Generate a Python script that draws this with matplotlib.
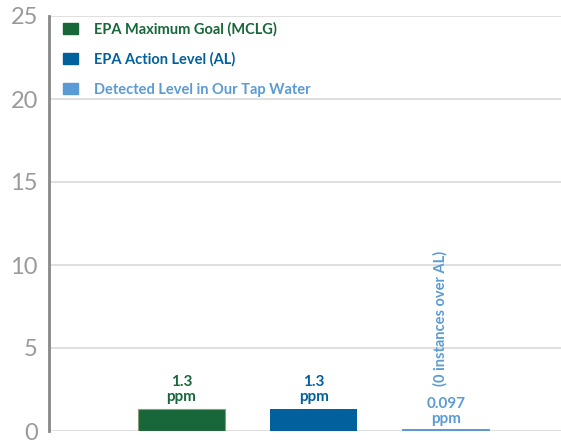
import numpy as np
import matplotlib.pyplot as plt

# data -------------------------
labels = ['EPA Maximum Goal (MCLG)', 'EPA Action Level (AL)', 'Detected Level in Our Tap Water']
values = [1.3, 1.3, 0.097]
value_text = ['1.3\nppm', '1.3\nppm', '0.097\nppm']
colors = ['#17673a', '#02609c', '#5b9bd5']
yticks = [0, 5, 10, 15, 20, 25]

# plot -------------------------
plt.rcParams['font.family'] = ['Lato', 'DejaVu Sans']
fig = plt.figure(figsize=(5.61, 4.43), dpi=100)
ax = fig.add_axes([49/561, 12/443, 1 - 49/561, 415/443])

x = np.arange(len(values))
bars = ax.bar(x, values, width=0.66, color=colors, zorder=3)
bars[0].set_edgecolor('#8c9c70')
bars[0].set_linewidth(0.8)

for xi, v, t, c in zip(x, values, value_text, colors):
    off = 0.35 if v > 0.5 else 0.2
    ax.text(xi, v + off, t, ha='center', va='bottom', color=c,
            fontsize=11, fontweight='bold', linespacing=1.1)

ax.text(x[2] - 0.04, 2.7, '(0 instances over AL)', rotation=90, ha='center',
        va='bottom', color=colors[2], fontsize=10.5, fontweight='bold')

# legend
h = [plt.Rectangle((0, 0), 1, 1, color=c) for c in colors]
leg = ax.legend(h, labels, loc='upper left', bbox_to_anchor=(0.0, 1.0),
                frameon=False, handlelength=1.0, handleheight=0.8,
                labelspacing=1.1, handletextpad=1.1, borderaxespad=0.0,
                borderpad=0.4, prop={'weight': 'bold', 'size': 10.5})
leg.set_bbox_to_anchor((0.016, 1.0))
for txt, c in zip(leg.get_texts(), colors):
    txt.set_color(c)

ax.set_ylim(0, 25)
ax.set_xlim(-1.0, 2.87)
ax.set_yticks(yticks)
ax.set_xticks([])
ax.tick_params(axis='y', length=0, pad=8, labelsize=17, labelcolor='#9a9a9a')
ax.grid(axis='y', color='#d9d9d9', linewidth=1.2, zorder=0)
for s in ['top', 'right', 'bottom']:
    ax.spines[s].set_visible(False)
ax.spines['left'].set_color('#888888')
ax.spines['left'].set_linewidth(2)
ax.spines['left'].set_zorder(4)

plt.savefig('out.png', dpi=100)
